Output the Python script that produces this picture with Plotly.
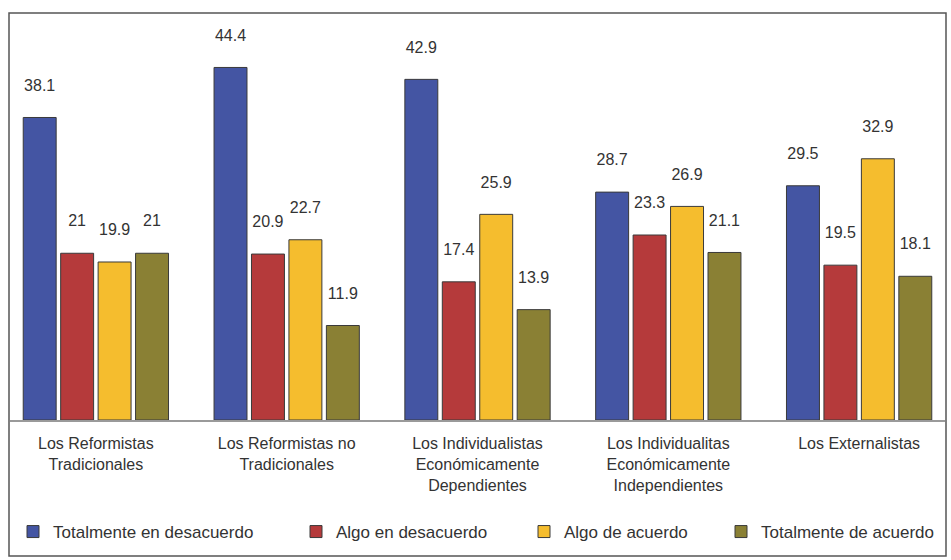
import plotly.graph_objects as go

categories = [
    "Los Reformistas<br>Tradicionales",
    "Los Reformistas no<br>Tradicionales",
    "Los Individualistas<br>Económicamente<br>Dependientes",
    "Los Individualitas<br>Económicamente<br>Independientes",
    "Los Externalistas",
]
series_names = [
    "Totalmente en desacuerdo",
    "Algo en desacuerdo",
    "Algo de acuerdo",
    "Totalmente de acuerdo",
]
totalmente_desacuerdo = [38.1, 44.4, 42.9, 28.7, 29.5]
algo_desacuerdo = [21, 20.9, 17.4, 23.3, 19.5]
algo_acuerdo = [19.9, 22.7, 25.9, 26.9, 32.9]
totalmente_acuerdo = [21, 11.9, 13.9, 21.1, 18.1]

values = [totalmente_desacuerdo, algo_desacuerdo, algo_acuerdo, totalmente_acuerdo]
colors = ["#4455a3", "#b53a3b", "#f5bd2e", "#8a8034"]
legend_ids = ["legend", "legend2", "legend3", "legend4"]
legend_x_px = [27, 310, 538, 735]

L, R, T, B = 10, 6, 23, 140
W, H = 951, 560
pw, ph = W - L - R, H - T - B

fig = go.Figure()
for name, vals, col, lid in zip(series_names, values, colors, legend_ids):
    fig.add_trace(go.Bar(
        x=list(range(len(categories))), y=vals, name=name,
        marker=dict(color=col, line=dict(color="#3a3a3a", width=1)),
        text=[f"{v:g}<br> " for v in vals],
        textposition="outside", cliponaxis=False,
        textfont=dict(size=16, color="#333333", family="Arial"),
        legend=lid,
    ))

layout_legends = {}
for lid, px in zip(legend_ids, legend_x_px):
    layout_legends[lid] = dict(
        x=(px - L - 14) / pw, xanchor="left",
        y=(H - B - 532) / ph, yanchor="middle",
        orientation="h", bgcolor="rgba(0,0,0,0)",
        font=dict(size=17, color="#333333", family="Arial"),
        itemclick=False,
    )

fig.update_layout(
    width=W, height=H,
    margin=dict(l=L, r=R, t=T, b=B),
    paper_bgcolor="white", plot_bgcolor="white",
    barmode="group", bargap=0.215, bargroupgap=0.12,
    showlegend=True,
    font=dict(family="Arial", color="#333333"),
    xaxis=dict(
        tickmode="array", tickvals=list(range(len(categories))), ticktext=categories,
        range=[-0.45, 4.45], showline=True, linecolor="#9a9a9a", linewidth=1.5,
        ticks="", tickfont=dict(size=16, color="#333333"), ticklabelstandoff=8,
        showgrid=False, zeroline=False, fixedrange=True,
    ),
    yaxis=dict(range=[0, 50], visible=False, showgrid=False, fixedrange=True),
    shapes=[dict(
        type="rect", xref="paper", yref="paper",
        x0=(9 - L) / pw, x1=(946 - L) / pw,
        y0=(H - B - 556) / ph, y1=(H - B - 13) / ph,
        line=dict(color="#555555", width=1.5), fillcolor="rgba(0,0,0,0)",
    )],
    **layout_legends,
)

fig.write_html(
    "out.html",
    config={"displayModeBar": False},
    post_script="document.body.style.margin='0';document.body.style.overflow='hidden';",
)
